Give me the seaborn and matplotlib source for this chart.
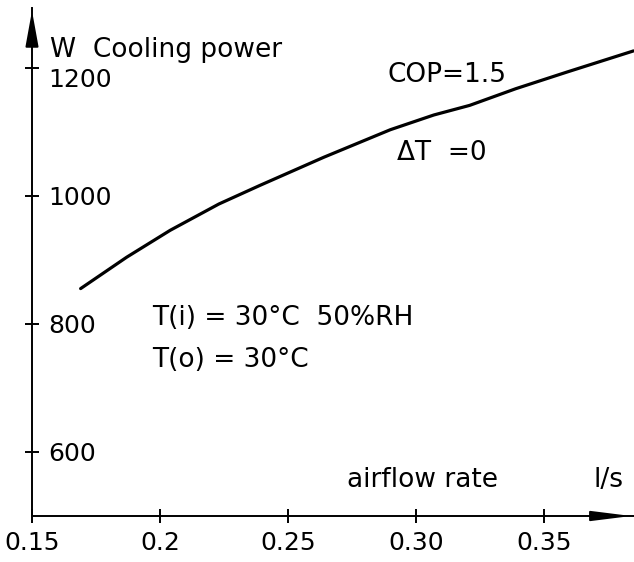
import numpy as np
import pandas as pd
import seaborn as sns
import matplotlib
matplotlib.use('Agg')
import matplotlib.pyplot as plt

sns.set_theme(style="white")
plt.rcParams['font.family'] = ['DejaVu Sans']
plt.rcParams['text.color'] = 'black'
plt.rcParams['xtick.color'] = 'black'
plt.rcParams['ytick.color'] = 'black'

# values (COP = 1.5, dT = 0)
airflow = [0.169, 0.187, 0.204, 0.223, 0.239, 0.264, 0.290, 0.307, 0.321, 0.339, 0.359, 0.385]
power = [855, 904, 946, 987, 1016, 1060, 1103, 1126, 1141, 1167, 1193, 1226]

x_ticks = [0.15, 0.2, 0.25, 0.30, 0.35]
x_tick_labels = ['0.15', '0.2', '0.25', '0.30', '0.35']
y_ticks = [600, 800, 1000, 1200]
y_tick_labels = ['600', '800', '1000', '1200']

df = pd.DataFrame({'airflow': airflow, 'power': power})

fig = plt.figure(figsize=(6.34, 5.62), dpi=100)
ax = fig.add_axes([32/634, 46/562, 602/634, 508/562])

sns.lineplot(data=df, x='airflow', y='power', color='black', linewidth=2.3, ax=ax)

ax.set_xlim(0.15, 0.3852)
ax.set_ylim(500, 1293)
ax.set_xlabel('')
ax.set_ylabel('')

for s in ['top', 'right']:
    ax.spines[s].set_visible(False)
for s in ['left', 'bottom']:
    ax.spines[s].set_color('black')
    ax.spines[s].set_linewidth(1.4)

ax.set_xticks(x_ticks)
ax.set_xticklabels(x_tick_labels)
ax.set_yticks(y_ticks)
ax.set_yticklabels(y_tick_labels)
ax.tick_params(axis='both', direction='inout', length=10, width=1.4,
               bottom=True, left=True, labelsize=18)
ax.tick_params(axis='x', pad=6)
ax.tick_params(axis='y', pad=-17)
for lab in ax.get_yticklabels():
    lab.set_horizontalalignment('left')
    if lab.get_text() == '1200':
        lab.set_verticalalignment('top')

# arrow heads on both axes
ax.annotate('', xy=(0, 1), xytext=(0, 0.95), xycoords='axes fraction',
            arrowprops=dict(arrowstyle='-|>,head_length=1.1,head_width=0.2',
                            color='black', lw=1.4, mutation_scale=20),
            annotation_clip=False)
ax.annotate('', xy=(1, 0), xytext=(0.95, 0), xycoords='axes fraction',
            arrowprops=dict(arrowstyle='-|>,head_length=1.2,head_width=0.15',
                            color='black', lw=1.4, mutation_scale=20),
            annotation_clip=False)

fs = 19
ax.text(0.157, 1217, 'W  Cooling power', fontsize=fs, va='baseline', ha='left')
ax.text(0.2887, 1177, 'COP=1.5', fontsize=fs, va='baseline', ha='left')
ax.text(0.2926, 1055, 'ΔT  =0', fontsize=fs, va='baseline', ha='left')
ax.text(0.197, 798, 'T(i) = 30°C  50%RH', fontsize=fs, va='baseline', ha='left')
ax.text(0.197, 732, 'T(o) = 30°C', fontsize=fs, va='baseline', ha='left')
ax.text(0.273, 545, 'airflow rate', fontsize=fs, va='baseline', ha='left')
ax.text(0.3695, 545, 'l/s', fontsize=fs, va='baseline', ha='left')

fig.savefig('out.png', dpi=100)
